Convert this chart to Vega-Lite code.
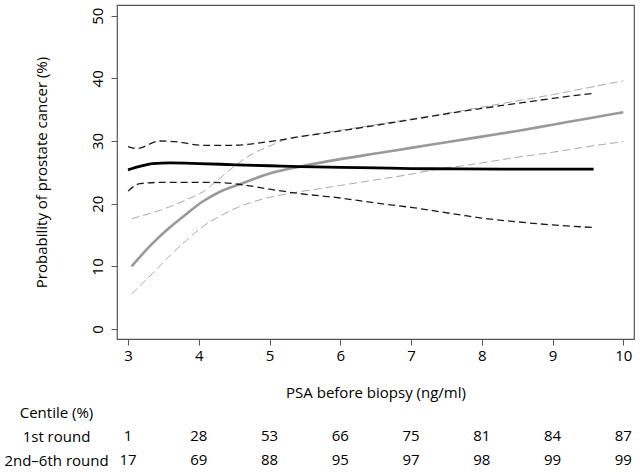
{
  "$schema": "https://vega.github.io/schema/vega-lite/v6.json",
  "padding": {"left": 3, "top": 4, "right": 5, "bottom": 0},
  "background": "white",
  "spacing": 61,
  "bounds": "flush",
  "config": {
    "font": "Open Sans",
    "view": {"stroke": "#555", "strokeWidth": 1.2},
    "axis": {
      "labelFont": "Open Sans", "labelFontSize": 15, "labelColor": "black",
      "titleFont": "Open Sans", "titleFontSize": 15, "titleFontWeight": "normal", "titleColor": "black",
      "grid": false, "domain": false, "tickColor": "#555", "tickSize": 6
    }
  },
  "resolve": {"scale": {"x": "independent", "y": "independent"}},
  "datasets": {
    "curves": [
      {"series": "g_lo", "psa": 3.05, "prob": 5.6},
      {"series": "g_lo", "psa": 3.35, "prob": 8.9},
      {"series": "g_lo", "psa": 3.6, "prob": 11.8},
      {"series": "g_lo", "psa": 3.83, "prob": 14.2},
      {"series": "g_lo", "psa": 4.05, "prob": 16.3},
      {"series": "g_lo", "psa": 4.3, "prob": 18.0},
      {"series": "g_lo", "psa": 4.55, "prob": 19.4},
      {"series": "g_lo", "psa": 4.77, "prob": 20.3},
      {"series": "g_lo", "psa": 5.0, "prob": 21.0},
      {"series": "g_lo", "psa": 5.43, "prob": 21.9},
      {"series": "g_lo", "psa": 6.0, "prob": 22.9},
      {"series": "g_lo", "psa": 6.5, "prob": 23.8},
      {"series": "g_lo", "psa": 7.0, "prob": 24.7},
      {"series": "g_lo", "psa": 7.36, "prob": 25.5},
      {"series": "g_lo", "psa": 7.7, "prob": 26.0},
      {"series": "g_lo", "psa": 8.0, "prob": 26.5},
      {"series": "g_lo", "psa": 8.5, "prob": 27.4},
      {"series": "g_lo", "psa": 9.0, "prob": 28.2},
      {"series": "g_lo", "psa": 9.5, "prob": 29.1},
      {"series": "g_lo", "psa": 10.0, "prob": 29.9},
      {"series": "g_hi", "psa": 3.05, "prob": 17.6},
      {"series": "g_hi", "psa": 3.3, "prob": 18.4},
      {"series": "g_hi", "psa": 3.59, "prob": 19.5},
      {"series": "g_hi", "psa": 3.8, "prob": 20.5},
      {"series": "g_hi", "psa": 4.06, "prob": 21.9},
      {"series": "g_hi", "psa": 4.25, "prob": 23.6},
      {"series": "g_hi", "psa": 4.44, "prob": 25.4},
      {"series": "g_hi", "psa": 4.6, "prob": 26.8},
      {"series": "g_hi", "psa": 4.77, "prob": 28.0},
      {"series": "g_hi", "psa": 5.0, "prob": 29.2},
      {"series": "g_hi", "psa": 5.2, "prob": 30.1},
      {"series": "g_hi", "psa": 5.4, "prob": 30.6},
      {"series": "g_hi", "psa": 6.0, "prob": 31.7},
      {"series": "g_hi", "psa": 6.5, "prob": 32.6},
      {"series": "g_hi", "psa": 7.0, "prob": 33.5},
      {"series": "g_hi", "psa": 7.5, "prob": 34.4},
      {"series": "g_hi", "psa": 8.0, "prob": 35.4},
      {"series": "g_hi", "psa": 8.5, "prob": 36.4},
      {"series": "g_hi", "psa": 9.0, "prob": 37.4},
      {"series": "g_hi", "psa": 9.5, "prob": 38.5},
      {"series": "g_hi", "psa": 10.0, "prob": 39.6},
      {"series": "g_est", "psa": 3.05, "prob": 10.0},
      {"series": "g_est", "psa": 3.35, "prob": 13.7},
      {"series": "g_est", "psa": 3.6, "prob": 16.3},
      {"series": "g_est", "psa": 3.83, "prob": 18.4},
      {"series": "g_est", "psa": 4.05, "prob": 20.3},
      {"series": "g_est", "psa": 4.3, "prob": 21.9},
      {"series": "g_est", "psa": 4.63, "prob": 23.3},
      {"series": "g_est", "psa": 5.0, "prob": 24.8},
      {"series": "g_est", "psa": 5.43, "prob": 25.9},
      {"series": "g_est", "psa": 6.0, "prob": 27.1},
      {"series": "g_est", "psa": 6.5, "prob": 28.0},
      {"series": "g_est", "psa": 7.0, "prob": 28.9},
      {"series": "g_est", "psa": 7.5, "prob": 29.8},
      {"series": "g_est", "psa": 8.0, "prob": 30.7},
      {"series": "g_est", "psa": 8.5, "prob": 31.6},
      {"series": "g_est", "psa": 9.0, "prob": 32.6},
      {"series": "g_est", "psa": 9.5, "prob": 33.6},
      {"series": "g_est", "psa": 10.0, "prob": 34.6},
      {"series": "b_lo", "psa": 3.0, "prob": 22.0},
      {"series": "b_lo", "psa": 3.17, "prob": 23.2},
      {"series": "b_lo", "psa": 3.5, "prob": 23.4},
      {"series": "b_lo", "psa": 3.83, "prob": 23.4},
      {"series": "b_lo", "psa": 4.2, "prob": 23.4},
      {"series": "b_lo", "psa": 4.63, "prob": 23.0},
      {"series": "b_lo", "psa": 5.0, "prob": 22.3},
      {"series": "b_lo", "psa": 5.43, "prob": 21.6},
      {"series": "b_lo", "psa": 6.0, "prob": 20.9},
      {"series": "b_lo", "psa": 6.5, "prob": 20.1},
      {"series": "b_lo", "psa": 7.0, "prob": 19.4},
      {"series": "b_lo", "psa": 7.7, "prob": 18.2},
      {"series": "b_lo", "psa": 8.0, "prob": 17.7},
      {"series": "b_lo", "psa": 8.5, "prob": 17.1},
      {"series": "b_lo", "psa": 9.0, "prob": 16.6},
      {"series": "b_lo", "psa": 9.58, "prob": 16.2},
      {"series": "b_hi", "psa": 3.0, "prob": 29.1},
      {"series": "b_hi", "psa": 3.12, "prob": 28.8},
      {"series": "b_hi", "psa": 3.45, "prob": 30.0},
      {"series": "b_hi", "psa": 3.67, "prob": 29.9},
      {"series": "b_hi", "psa": 4.06, "prob": 29.3},
      {"series": "b_hi", "psa": 4.44, "prob": 29.3},
      {"series": "b_hi", "psa": 5.0, "prob": 29.9},
      {"series": "b_hi", "psa": 5.43, "prob": 30.7},
      {"series": "b_hi", "psa": 6.0, "prob": 31.6},
      {"series": "b_hi", "psa": 6.5, "prob": 32.5},
      {"series": "b_hi", "psa": 7.0, "prob": 33.4},
      {"series": "b_hi", "psa": 7.7, "prob": 34.7},
      {"series": "b_hi", "psa": 8.0, "prob": 35.2},
      {"series": "b_hi", "psa": 8.5, "prob": 36.0},
      {"series": "b_hi", "psa": 9.0, "prob": 36.8},
      {"series": "b_hi", "psa": 9.58, "prob": 37.6},
      {"series": "b_est", "psa": 3.0, "prob": 25.4},
      {"series": "b_est", "psa": 3.15, "prob": 25.9},
      {"series": "b_est", "psa": 3.35, "prob": 26.4},
      {"series": "b_est", "psa": 3.59, "prob": 26.5},
      {"series": "b_est", "psa": 4.0, "prob": 26.4},
      {"series": "b_est", "psa": 4.53, "prob": 26.2},
      {"series": "b_est", "psa": 5.0, "prob": 26.05},
      {"series": "b_est", "psa": 5.43, "prob": 25.9},
      {"series": "b_est", "psa": 6.0, "prob": 25.8},
      {"series": "b_est", "psa": 6.5, "prob": 25.7},
      {"series": "b_est", "psa": 7.0, "prob": 25.6},
      {"series": "b_est", "psa": 7.7, "prob": 25.55},
      {"series": "b_est", "psa": 8.5, "prob": 25.5},
      {"series": "b_est", "psa": 9.0, "prob": 25.5},
      {"series": "b_est", "psa": 9.58, "prob": 25.5}
    ],
    "table": [
      {"row": "1st round", "psa": 3, "value": "1"},
      {"row": "1st round", "psa": 4, "value": "28"},
      {"row": "1st round", "psa": 5, "value": "53"},
      {"row": "1st round", "psa": 6, "value": "66"},
      {"row": "1st round", "psa": 7, "value": "75"},
      {"row": "1st round", "psa": 8, "value": "81"},
      {"row": "1st round", "psa": 9, "value": "84"},
      {"row": "1st round", "psa": 10, "value": "87"},
      {"row": "2nd–6th round", "psa": 3, "value": "17"},
      {"row": "2nd–6th round", "psa": 4, "value": "69"},
      {"row": "2nd–6th round", "psa": 5, "value": "88"},
      {"row": "2nd–6th round", "psa": 6, "value": "95"},
      {"row": "2nd–6th round", "psa": 7, "value": "97"},
      {"row": "2nd–6th round", "psa": 8, "value": "98"},
      {"row": "2nd–6th round", "psa": 9, "value": "99"},
      {"row": "2nd–6th round", "psa": 10, "value": "99"}
    ]
  },
  "vconcat": [
    {
      "width": 517,
      "height": 334,
      "data": {"name": "curves"},
      "encoding": {
        "x": {"field": "psa", "type": "quantitative",
          "scale": {"domain": [2.844, 10.151], "nice": false, "zero": false},
          "axis": {"values": [3, 4, 5, 6, 7, 8, 9, 10], "title": "PSA before biopsy (ng/ml)", "labelPadding": 3, "titlePadding": 22, "labelFlush": false}},
        "y": {"field": "prob", "type": "quantitative",
          "scale": {"domain": [-1.6, 51.7], "nice": false, "zero": false},
          "axis": {"values": [0, 10, 20, 30, 40, 50], "title": "Probability of prostate cancer (%)", "labelAngle": -90, "labelAlign": "center", "labelBaseline": "bottom", "labelPadding": 6, "titlePadding": 41}},
        "detail": {"field": "series"}
      },
      "layer": [
        {
          "transform": [{"filter": "datum.series === 'g_lo' || datum.series === 'g_hi'"}],
          "mark": {"type": "line", "interpolate": "monotone", "color": "#a8a8a8", "strokeWidth": 1, "strokeDash": [8, 4]}
        },
        {
          "transform": [{"filter": "datum.series === 'g_est'"}],
          "mark": {"type": "line", "interpolate": "monotone", "color": "#999999", "strokeWidth": 2.6}
        },
        {
          "transform": [{"filter": "datum.series === 'b_lo' || datum.series === 'b_hi'"}],
          "mark": {"type": "line", "interpolate": "monotone", "color": "#1a1a1a", "strokeWidth": 1.3, "strokeDash": [7, 4]}
        },
        {
          "transform": [{"filter": "datum.series === 'b_est'"}],
          "mark": {"type": "line", "interpolate": "monotone", "color": "#000000", "strokeWidth": 2.8}
        }
      ]
    },
    {
      "width": 517,
      "height": 72,
      "view": {"stroke": null},
      "data": {"name": "table"},
      "mark": {"type": "text", "fontSize": 15, "font": "Open Sans", "color": "black"},
      "encoding": {
        "x": {"field": "psa", "type": "quantitative",
          "scale": {"domain": [2.844, 10.151], "nice": false, "zero": false}, "axis": null},
        "y": {"field": "row", "type": "nominal",
          "scale": {"type": "point", "padding": 0.5, "domain": ["Centile (%)", "1st round", "2nd–6th round"]},
          "axis": {"title": null, "ticks": false, "labelAlign": "center", "labelBaseline": "middle", "labelPadding": 61}},
        "text": {"field": "value"}
      }
    }
  ]
}
